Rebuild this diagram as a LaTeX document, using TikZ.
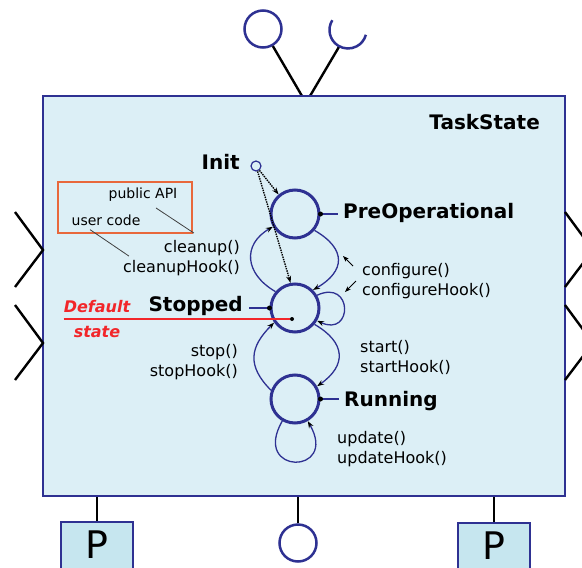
\documentclass[tikz,border=0pt]{standalone}
\usepackage{fontspec}
\setmainfont{DejaVu Sans}
\usetikzlibrary{arrows.meta,calc}
\definecolor{navy}{HTML}{2E3192}
\definecolor{taskfill}{HTML}{DCEFF6}
\definecolor{portfill}{HTML}{C6E6EF}
\definecolor{apiorange}{HTML}{E8683C}
\definecolor{defred}{HTML}{F2262A}

\tikzset{
  StateStyle/.style={circle,draw=navy,line width=3pt,minimum size=48pt,inner sep=0pt},
  PortStyle/.style={draw=navy,line width=2.5pt,fill=portfill,minimum width=72pt,
    minimum height=48pt,inner sep=0pt,font=\fontsize{38}{38}\selectfont},
  ProvStyle/.style={circle,draw=navy,line width=2.5pt,minimum size=37pt,inner sep=0pt},
  PinStyle/.style={black,line width=2.4pt},
  DotStyle/.style={circle,fill=black,inner sep=0pt,minimum size=5pt},
  TagStyle/.style={draw=navy,line width=1.3pt},
  PointerStyle/.style={black,line width=0.9pt,-{Stealth[length=6pt,width=4.5pt]}},
  BigLabel/.style={font=\bfseries\fontsize{20}{24}\selectfont,inner sep=0pt},
  CallLabel/.style={font=\fontsize{16}{20}\selectfont,inner sep=0pt,align=left},
  SmallLabel/.style={font=\fontsize{14}{17}\selectfont,inner sep=0pt}
}

\begin{document}
\begin{tikzpicture}[x=1pt,y=-1pt]
  \useasboundingbox (0,0) rectangle (582,568);

  % component and its ports
  \coordinate (pinA) at (302,96);
  \coordinate (pinB) at (310,96);
  \coordinate (req) at (348,30);
  \node[ProvStyle] (prov) at (263,29) {};
  \draw[PinStyle] (prov.-60) -- (pinA);
  \draw[PinStyle] ($(req)+(242:18.5pt)$) -- (pinB);
  \draw[navy,line width=2.5pt] ($(req)+(148:18.5pt)$) arc[start angle=148,end angle=345,radius=18.5pt];
  \node[draw=navy,line width=2.6pt,fill=taskfill,minimum width=522pt,
        minimum height=400pt,inner sep=0pt] (task) at (304,296) {};
  \node[BigLabel,anchor=east] (title) at (540,122) {TaskState};
  \foreach \y in {250,343} {
    \draw[PinStyle] (15,\y-38) -- (43,\y) -- (15,\y+37);
    \draw[PinStyle] (565,\y-38) -- (593,\y) -- (565,\y+37);
  }
  \node[PortStyle] (portL) at (97,546) {\raisebox{3pt}{P}};
  \node[PortStyle] (portR) at (494,547) {\raisebox{3pt}{P}};
  \node[ProvStyle] (provB) at (298,543) {};
  \draw[PinStyle] (portL.north) -- (portL.north |- task.south);
  \draw[PinStyle] (portR.north) -- (portR.north |- task.south);
  \draw[PinStyle] (provB.north) -- (provB.north |- task.south);

  % states
  \node[StateStyle] (PreOp) at (295,214) {};
  \node[StateStyle] (Stop) at (295,308) {};
  \node[StateStyle] (Run) at (295,399) {};
  \node[circle,draw=navy,line width=1.2pt,minimum size=10pt,inner sep=0pt] (Init) at (256,166) {};
  \node[BigLabel,anchor=east] (InitLbl) at (240,162) {Init};
  \node[BigLabel,anchor=west] (PreOpLbl) at (343,213) {PreOperational};
  \node[BigLabel,anchor=east] (StopLbl) at (243,306) {Stopped};
  \node[BigLabel,anchor=west] (RunLbl) at (344,401) {Running};
  \draw[TagStyle,shorten >=5pt] (PreOp.east) -- (PreOp.east -| PreOpLbl.west);
  \draw[TagStyle,shorten >=6pt] (Stop.west) -- (Stop.west -| StopLbl.east);
  \draw[TagStyle,shorten >=5pt] (Run.east) -- (Run.east -| RunLbl.west);
  \node[DotStyle] (dotP) at (PreOp.east) {};
  \node[DotStyle] (dotS) at (Stop.west) {};
  \node[DotStyle] (dotR) at (Run.east) {};

  % default state
  \node[DotStyle,minimum size=4pt] (defDot) at (292,319) {};
  \node[font=\itshape\bfseries\fontsize{16}{25}\selectfont,text=defred,align=center,
        inner sep=0pt] (defLbl) at (97,319) {Default\\state};
  \draw[defred,line width=1.6pt] (defLbl.west) -- (defDot);

  % api note
  \node[draw=apiorange,line width=1.5pt,minimum width=134pt,minimum height=51pt,
        inner sep=0pt] (apiBox) at (125,207.5) {};
  \node[SmallLabel] (pubLbl) at (143,195) {public API};
  \node[SmallLabel] (usrLbl) at (106,220) {user code};
  \node[CallLabel,anchor=east] (clnA) at (240,248) {cleanup()};
  \node[CallLabel,anchor=east] (clnB) at (240,268) {cleanupHook()};
  \draw[black!75,line width=0.8pt] ($(pubLbl.south)+(13,6)$) -- ($(clnA.north)+(-8,-7)$);
  \draw[black!75,line width=0.8pt] ($(usrLbl.south)+(-16,4)$) -- ($(clnB.north west)+(6,-4)$);

  % method labels
  \node[CallLabel,anchor=west] (cfgLbl) at (362,281) {configure()\\configureHook()};
  \node[CallLabel,anchor=west] (startLbl) at (360,357) {start()\\startHook()};
  \node[CallLabel,anchor=east,align=right] (stopLbl) at (238,362) {stop()\\stopHook()};
  \node[CallLabel,anchor=west] (updLbl) at (337,449) {update()\\updateHook()};
  \coordinate (cfgHitA) at (343,256);
  \coordinate (cfgHitB) at (345,292);
  \draw[PointerStyle] ($(cfgLbl.west)+(-9,-15)$) -- (cfgHitA);
  \draw[PointerStyle] ($(cfgLbl.west)+(-6,0)$) -- (cfgHitB);

  % Init
  \tikzset{EdgeStyle/.style={black,densely dotted,line width=1.4pt,-{Stealth[length=7pt,width=5pt]}}}
    \draw[EdgeStyle] (Init) -- (PreOp.130);
    \draw[EdgeStyle] (Init) -- (Stop.100);

  % PreOperational
  \tikzset{EdgeStyle/.style={navy,line width=1.3pt,-{Stealth[length=7pt,width=5pt,color=black]}}}
    \draw[EdgeStyle] (PreOp.-40) to[out=-30,in=30,looseness=1.6] (Stop.45);

  % Stopped
    \draw[EdgeStyle] (Stop.140) to[out=150,in=210,looseness=1.4] (PreOp.210);
    \draw[EdgeStyle] (Stop.30) to[out=25,in=-25,looseness=4] (Stop.-30);
    \draw[EdgeStyle] (Stop.-40) to[out=-30,in=35,looseness=1.5] (Run.30);

  % Running
    \draw[EdgeStyle] (Run.160) to[out=135,in=225,looseness=1.3] (Stop.215);
    \draw[EdgeStyle] (Run.240) to[out=240,in=300,looseness=6.3] (Run.-60);
\end{tikzpicture}
\end{document}
